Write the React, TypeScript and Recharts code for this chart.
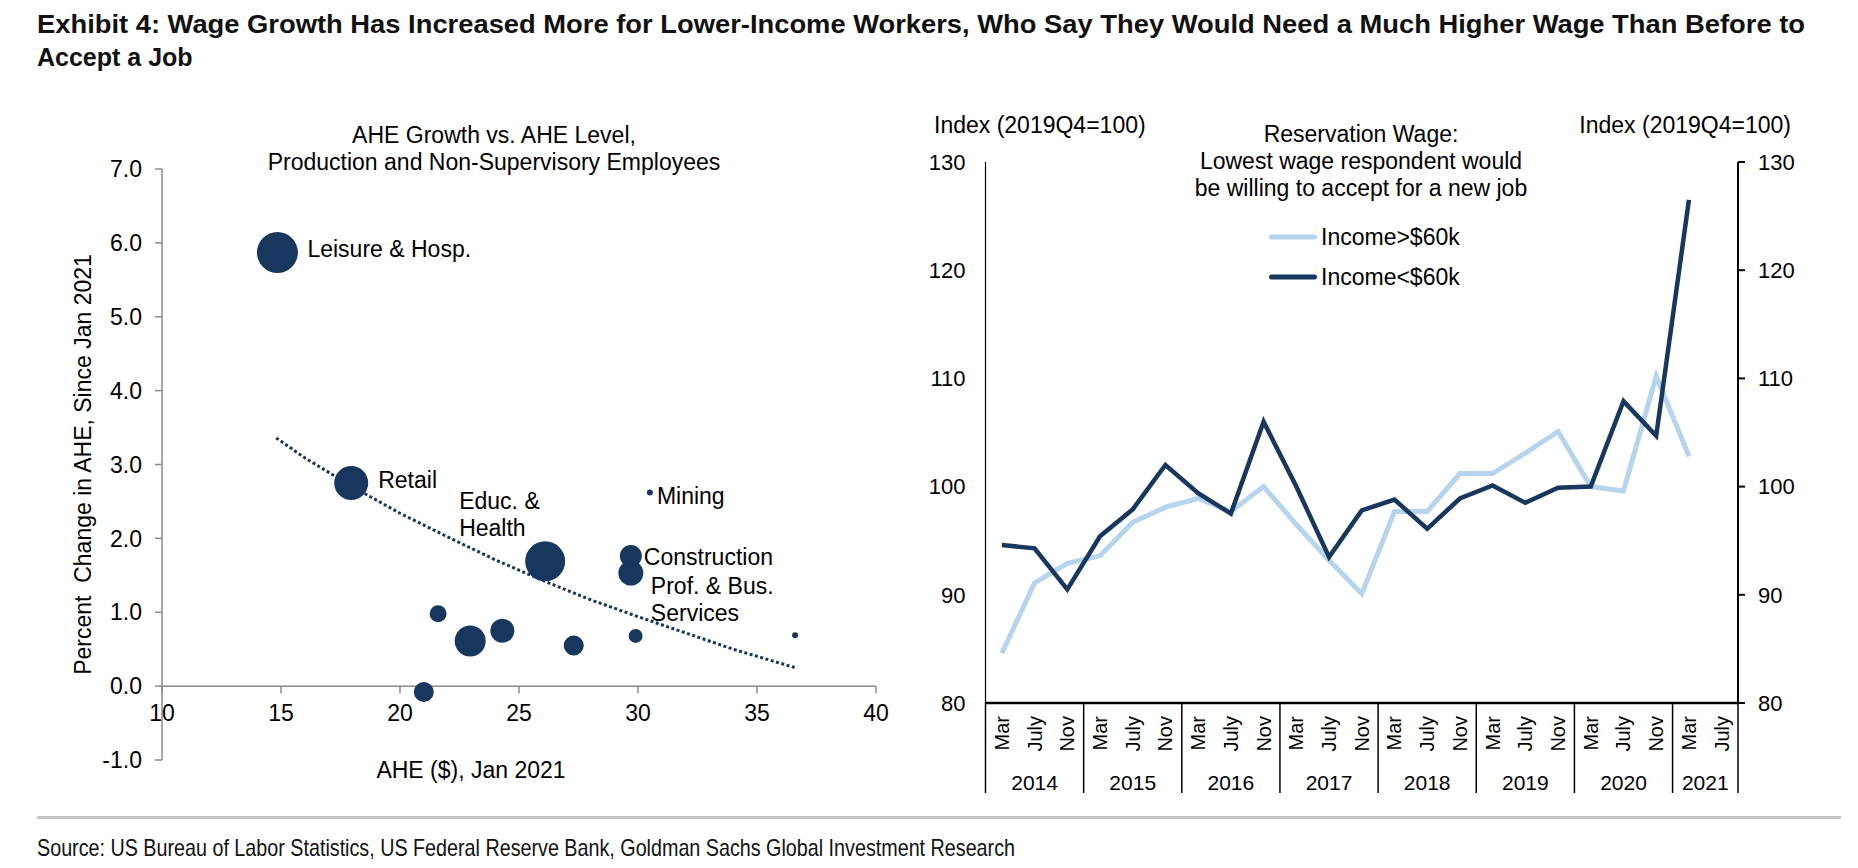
import React from 'react';
import {
  ScatterChart,
  Scatter,
  XAxis,
  YAxis,
  ZAxis,
  ReferenceLine,
  ReferenceDot,
  LineChart,
  Line,
  Legend,
} from 'recharts';

const FONT = '"Liberation Sans", Arial, sans-serif';
const NARROW = '"Liberation Sans Narrow", "Liberation Sans", Arial, sans-serif';
const NAVY = '#17375e';
const LIGHT = '#b7d4ef';
const AXIS_GRAY = '#8a8a8a';

// ---- left panel: AHE growth vs AHE level, by industry ----
const industries = [
  'Leisure & Hosp.', 'Retail', 'Educ. & Health', 'Mining', 'Construction',
  'Prof. & Bus. Services', 'Other Services', 'Manufacturing', 'Financial Activities',
  'Wholesale Trade', 'Information', 'Utilities', 'Trans. & Warehousing',
];
const aheLevel = [14.85, 17.95, 26.1, 30.5, 29.7, 29.7, 21.6, 22.95, 24.3, 27.3, 29.9, 36.6, 21.0];
const aheGrowth = [5.87, 2.75, 1.69, 2.62, 1.76, 1.53, 0.98, 0.61, 0.75, 0.55, 0.68, 0.69, -0.08];
const bubbleWeight = [420, 290, 400, 9, 121, 156, 72, 240, 144, 100, 49, 9, 100];

const trendX = [14.8, 16, 18, 20, 22, 24, 26, 28, 30, 32, 34, 36.6];
const trendY = [3.36, 3.09, 2.7, 2.34, 2.02, 1.71, 1.43, 1.17, 0.94, 0.72, 0.5, 0.25];

const growthTicks = [-1, 0, 1, 2, 3, 4, 5, 6, 7];
const levelTicks = [10, 15, 20, 25, 30, 35, 40];

// ---- right panel: reservation wage index ----
const periods = [
  'Mar 2014', 'July 2014', 'Nov 2014', 'Mar 2015', 'July 2015', 'Nov 2015',
  'Mar 2016', 'July 2016', 'Nov 2016', 'Mar 2017', 'July 2017', 'Nov 2017',
  'Mar 2018', 'July 2018', 'Nov 2018', 'Mar 2019', 'July 2019', 'Nov 2019',
  'Mar 2020', 'July 2020', 'Nov 2020', 'Mar 2021', 'July 2021',
];
const incomeAbove60k = [
  84.6, 91.1, 92.9, 93.6, 96.7, 98.1, 98.9, 97.7, 100.0, 96.5, 93.2, 90.1,
  97.7, 97.7, 101.2, 101.2, 103.1, 105.1, 100.0, 99.6, 110.2, 102.8, null,
];
const incomeBelow60k = [
  94.6, 94.3, 90.5, 95.4, 97.9, 102.0, 99.4, 97.5, 106.0, 100.0, 93.5, 97.8,
  98.8, 96.1, 98.9, 100.1, 98.5, 99.9, 100.0, 107.9, 104.7, 126.5, null,
];
const seriesNames = ['Income>$60k', 'Income<$60k'];
const indexTicks = [80, 90, 100, 110, 120, 130];

const bubbleRows = industries.map((name, i) => ({
  name,
  x: aheLevel[i],
  y: aheGrowth[i],
  z: bubbleWeight[i],
}));
const trendRows = trendX.map((x, i) => ({ x, y: trendY[i] }));
const wageRows = periods.map((p, i) => ({
  period: p,
  above: incomeAbove60k[i],
  below: incomeBelow60k[i],
}));

// label placement next to bubbles (pixels from bubble centre)
const bubbleLabels: Record<string, { dx: number; dy: number; lines: string[] }> = {
  'Leisure & Hosp.': { dx: 30, dy: -3, lines: ['Leisure & Hosp.'] },
  Retail: { dx: 27, dy: -3, lines: ['Retail'] },
  'Educ. & Health': { dx: -86, dy: -60, lines: ['Educ. &', 'Health'] },
  Mining: { dx: 7, dy: 3, lines: ['Mining'] },
  Construction: { dx: 13, dy: 1, lines: ['Construction'] },
  'Prof. & Bus. Services': { dx: 20, dy: 13, lines: ['Prof. & Bus.', 'Services'] },
};

function PeriodTick(props: any) {
  const { x, y, payload, width, visibleTicksCount } = props;
  const i = payload.index;
  const band = (width || 752.5) / (visibleTicksCount || periods.length);
  const [month, year] = periods[i].split(' ');
  const prevYear = i > 0 ? periods[i - 1].split(' ')[1] : null;
  const isFirst = prevYear !== year;
  const isLast = i === periods.length - 1;
  const groupSize = periods.filter((p) => p.endsWith(year)).length;
  return (
    <g>
      <text
        x={x}
        y={y + 13}
        transform={`rotate(-90 ${x} ${y + 13})`}
        textAnchor="end"
        dominantBaseline="central"
        fontSize={20}
        fill="#000"
      >
        {month}
      </text>
      {isFirst && (
        <line x1={x - band / 2} x2={x - band / 2} y1={y} y2={y + 90} stroke="#000" strokeWidth={1.5} />
      )}
      {isLast && (
        <line x1={x + band / 2} x2={x + band / 2} y1={y} y2={y + 90} stroke="#000" strokeWidth={1.5} />
      )}
      {isFirst && (
        <text
          x={x - band / 2 + (groupSize * band) / 2}
          y={y + 79}
          textAnchor="middle"
          dominantBaseline="central"
          fontSize={21}
          fill="#000"
        >
          {year}
        </text>
      )}
    </g>
  );
}

function WageLegend({ payload }: any) {
  const items = [...(payload ?? [])]
    .filter((it: any) => seriesNames.includes(it.value))
    .sort((a: any, b: any) => seriesNames.indexOf(a.value) - seriesNames.indexOf(b.value));
  return (
    <div>
      {items.map((it: any) => (
        <div key={it.value} style={{ display: 'flex', alignItems: 'center', height: 40 }}>
          <svg width={52} height={10}>
            <line x1={2.5} x2={45.5} y1={5} y2={5} stroke={it.color} strokeWidth={5} strokeLinecap="round" />
          </svg>
          <span style={{ fontSize: 23, lineHeight: '23px', color: '#000' }}>{it.value}</span>
        </div>
      ))}
    </div>
  );
}

export default function App() {
  return (
    <div
      style={{
        position: 'absolute',
        left: 0,
        top: 0,
        width: 1858,
        height: 868,
        background: '#fff',
        fontFamily: FONT,
        color: '#000',
      }}
    >
      <svg width={1858} height={868} style={{ position: 'absolute', left: 0, top: 0 }}>
        <text x={37} y={33} fontFamily={NARROW} fontWeight="bold" fontSize={25} textLength={1768} lengthAdjust="spacingAndGlyphs" fill="#111">
          Exhibit 4: Wage Growth Has Increased More for Lower-Income Workers, Who Say They Would Need a Much Higher Wage Than Before to
        </text>
        <text x={37} y={66} fontFamily={NARROW} fontWeight="bold" fontSize={25} fill="#111">
          Accept a Job
        </text>

        <text x={494} y={135} textAnchor="middle" dominantBaseline="central" fontSize={23}>AHE Growth vs. AHE Level,</text>
        <text x={494} y={162} textAnchor="middle" dominantBaseline="central" fontSize={23}>Production and Non-Supervisory Employees</text>
        <text x={471} y={770} textAnchor="middle" dominantBaseline="central" fontSize={23}>AHE ($), Jan 2021</text>

        <text x={934} y={125} dominantBaseline="central" fontSize={23}>Index (2019Q4=100)</text>
        <text x={1791} y={125} textAnchor="end" dominantBaseline="central" fontSize={23}>Index (2019Q4=100)</text>
        <text x={1361} y={134} textAnchor="middle" dominantBaseline="central" fontSize={23}>Reservation Wage:</text>
        <text x={1361} y={161} textAnchor="middle" dominantBaseline="central" fontSize={23}>Lowest wage respondent would</text>
        <text x={1361} y={188} textAnchor="middle" dominantBaseline="central" fontSize={23}>be willing to accept for a new job</text>

        <line x1={37} x2={1841} y1={817.5} y2={817.5} stroke="#c6c6c6" strokeWidth={3} />
        <text x={37} y={847} dominantBaseline="central" fontFamily={NARROW} fontSize={24} textLength={978} lengthAdjust="spacingAndGlyphs" fill="#111">
          Source: US Bureau of Labor Statistics, US Federal Reserve Bank, Goldman Sachs Global Investment Research
        </text>
      </svg>

      <div style={{ position: 'absolute', left: 0, top: 100 }}>
        <ScatterChart width={900} height={700} margin={{ top: 69, right: 24, bottom: 40, left: 0 }}>
          <XAxis type="number" dataKey="x" domain={[10, 40]} ticks={levelTicks} hide />
          <YAxis
            type="number"
            dataKey="y"
            domain={[-1, 7]}
            ticks={growthTicks}
            interval={0}
            width={162}
            axisLine={{ stroke: AXIS_GRAY, strokeWidth: 1.5 }}
            tickLine={{ stroke: AXIS_GRAY, strokeWidth: 1.5 }}
            tickSize={7}
            tickMargin={13}
            tick={{ fontSize: 23, fill: '#000' }}
            tickFormatter={(v: number) => v.toFixed(1)}
            label={{
              value: 'Percent\u00a0 Change in AHE, Since Jan 2021',
              angle: -90,
              position: 'center',
              dx: 2,
              style: { fontSize: 23, fill: '#000' },
            }}
          />
          <ZAxis type="number" dataKey="z" domain={[0, 420]} range={[0, 1319]} />
          <ReferenceLine y={0} stroke={AXIS_GRAY} strokeWidth={1.5} />
          {levelTicks.map((v) => (
            <ReferenceDot
              key={`xt-${v}`}
              x={v}
              y={0}
              r={0}
              ifOverflow="visible"
              shape={(p: any) => (
                <g>
                  <line x1={p.cx} x2={p.cx} y1={p.cy} y2={p.cy + 7} stroke={AXIS_GRAY} strokeWidth={1.5} />
                  <text x={p.cx} y={p.cy + 27} textAnchor="middle" dominantBaseline="central" fontSize={23} fill="#000">
                    {v}
                  </text>
                </g>
              )}
            />
          ))}
          <Scatter
            data={trendRows}
            line={{ stroke: NAVY, strokeWidth: 3, strokeDasharray: '3 2.5' }}
            shape={() => <g />}
            legendType="none"
            isAnimationActive={false}
          />
          <Scatter data={bubbleRows} fill={NAVY} shape="circle" isAnimationActive={false} />
          {bubbleRows
            .filter((r) => bubbleLabels[r.name])
            .map((r) => {
              const lab = bubbleLabels[r.name];
              return (
                <ReferenceDot
                  key={`lab-${r.name}`}
                  x={r.x}
                  y={r.y}
                  r={0}
                  ifOverflow="visible"
                  shape={(p: any) => (
                    <g>
                      {lab.lines.map((t, k) => (
                        <text
                          key={t}
                          x={p.cx + lab.dx}
                          y={p.cy + lab.dy + k * 27}
                          dominantBaseline="central"
                          fontSize={23}
                          fill="#000"
                        >
                          {t}
                        </text>
                      ))}
                    </g>
                  )}
                />
              );
            })}
        </ScatterChart>
      </div>

      <div style={{ position: 'absolute', left: 900, top: 100 }}>
        <LineChart width={958} height={720} data={wageRows} margin={{ top: 62, right: 0, bottom: 17, left: 0 }}>
          <XAxis
            dataKey="period"
            scale="band"
            interval={0}
            height={100}
            tickLine={false}
            tickSize={0}
            tickMargin={0}
            axisLine={{ stroke: '#000', strokeWidth: 2.5 }}
            tick={<PeriodTick />}
          />
          <YAxis
            yAxisId="l"
            type="number"
            domain={[80, 130]}
            ticks={indexTicks}
            interval={0}
            width={85.5}
            axisLine={{ stroke: '#000', strokeWidth: 1.2 }}
            tickLine={false}
            tickSize={0}
            tickMargin={20}
            tick={{ fontSize: 22, fill: '#000' }}
          />
          <YAxis
            yAxisId="r"
            type="number"
            orientation="right"
            domain={[80, 130]}
            ticks={indexTicks}
            interval={0}
            width={120}
            axisLine={{ stroke: '#000', strokeWidth: 2 }}
            tickLine={{ stroke: '#000', strokeWidth: 2 }}
            tickSize={7}
            tickMargin={13}
            tick={{ fontSize: 22, fill: '#000' }}
          />
          <Legend
            layout="horizontal"
            verticalAlign="middle"
            align="center"
            content={<WageLegend />}
            wrapperStyle={{ position: 'absolute', left: 369, top: 117, width: 'auto' }}
          />
          <Line
            yAxisId="l"
            dataKey="above"
            name={seriesNames[0]}
            stroke={LIGHT}
            strokeWidth={5}
            dot={false}
            activeDot={false}
            isAnimationActive={false}
          />
          <Line
            yAxisId="l"
            dataKey="below"
            name={seriesNames[1]}
            stroke={NAVY}
            strokeWidth={4.5}
            dot={false}
            activeDot={false}
            isAnimationActive={false}
          />
          {/* same series bound to the right-hand axis so its scale gets built; not drawn */}
          <Line
            yAxisId="r"
            dataKey="below"
            name="right axis"
            stroke="none"
            legendType="none"
            dot={false}
            activeDot={false}
            isAnimationActive={false}
          />
        </LineChart>
      </div>
    </div>
  );
}
